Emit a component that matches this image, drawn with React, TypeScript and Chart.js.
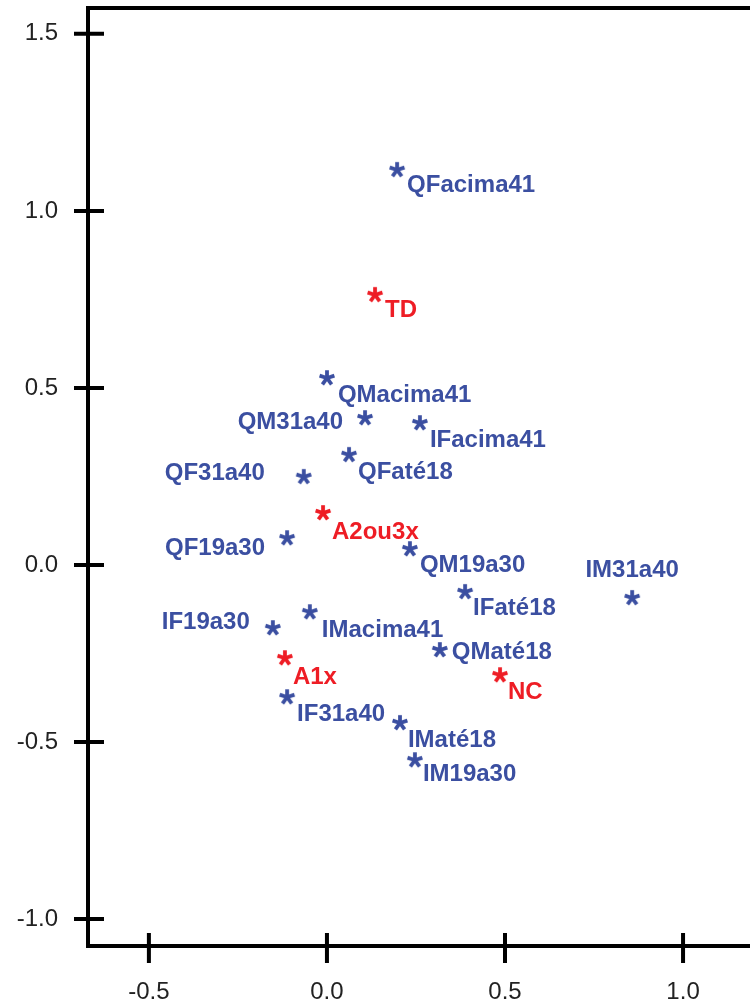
import React, { useEffect, useRef } from "react";
import { Chart, registerables } from "chart.js";

Chart.register(...registerables);

// ---- data ----
const blueLabels = [
  "QFacima41", "QMacima41", "QM31a40", "IFacima41", "QFaté18", "QF31a40",
  "QF19a30", "QM19a30", "IM31a40", "IFaté18", "IMacima41", "IF19a30",
  "QMaté18", "IF31a40", "IMaté18", "IM19a30",
];
const blueX = [0.197, 0.0, 0.107, 0.261, 0.062, -0.065, -0.112, 0.233, 0.857, 0.388, -0.048, -0.152, 0.317, -0.112, 0.205, 0.247];
const blueY = [1.116, 0.528, 0.415, 0.401, 0.311, 0.249, 0.076, 0.045, -0.093, -0.076, -0.133, -0.178, -0.24, -0.373, -0.446, -0.551];

const redLabels = ["TD", "A2ou3x", "A1x", "NC"];
const redX = [0.135, -0.011, -0.118, 0.486];
const redY = [0.763, 0.147, -0.263, -0.311];

const xTickValues = [-0.5, 0.0, 0.5, 1.0];
const yTickValues = [-1.0, -0.5, 0.0, 0.5, 1.0, 1.5];

// ---- label placement (pixel offsets relative to the marker) ----
type Place = { dx: number; dy: number; align: CanvasTextAlign };
const defaultPlace: Place = { dx: 10, dy: 15, align: "left" };
const labelPlacement: Record<string, Place> = {
  QFacima41: { dx: 10, dy: 14, align: "left" },
  TD: { dx: 10, dy: 14, align: "left" },
  QMacima41: { dx: 11, dy: 15, align: "left" },
  QFaté18: { dx: 9, dy: 16, align: "left" },
  A2ou3x: { dx: 9, dy: 17, align: "left" },
  QM19a30: { dx: 10, dy: 14, align: "left" },
  IFaté18: { dx: 8, dy: 14, align: "left" },
  IMacima41: { dx: 12, dy: 16, align: "left" },
  QMaté18: { dx: 12, dy: 0, align: "left" },
  A1x: { dx: 8, dy: 17, align: "left" },
  NC: { dx: 8, dy: 15, align: "left" },
  IMaté18: { dx: 8, dy: 15, align: "left" },
  IM19a30: { dx: 8, dy: 12, align: "left" },
  QM31a40: { dx: -22, dy: 2, align: "right" },
  QF31a40: { dx: -39, dy: -5, align: "right" },
  QF19a30: { dx: -22, dy: 8, align: "right" },
  IF19a30: { dx: -23, dy: -8, align: "right" },
  IM31a40: { dx: 0, dy: -30, align: "center" },
};

const BLUE = "#3b4fa1";
const RED = "#ee1d25";
const FONT_FAMILY = "'Liberation Sans', Arial, Helvetica, sans-serif";

function makeAsterisk(color: string): HTMLCanvasElement {
  const c = document.createElement("canvas");
  c.width = 20;
  c.height = 20;
  const g = c.getContext("2d")!;
  g.strokeStyle = color;
  g.lineWidth = 3.8;
  g.lineCap = "butt";
  const cx = 10, cy = 10, r = 7.8;
  for (let i = 0; i < 5; i++) {
    const a = -Math.PI / 2 + (i * 2 * Math.PI) / 5;
    g.beginPath();
    g.moveTo(cx, cy);
    g.lineTo(cx + r * Math.cos(a), cy + r * Math.sin(a));
    g.stroke();
  }
  return c;
}

const framePlugin = {
  id: "frameAxes",
  afterDraw(chart: any) {
    const { ctx, chartArea: ca, scales } = chart;
    ctx.save();
    ctx.strokeStyle = "#000";
    ctx.lineWidth = 4;
    ctx.lineCap = "butt";
    ctx.beginPath();
    // top border
    ctx.moveTo(ca.left - 2, ca.top);
    ctx.lineTo(ca.right + 20, ca.top);
    // left axis
    ctx.moveTo(ca.left, ca.top - 2);
    ctx.lineTo(ca.left, ca.bottom + 2);
    // bottom axis
    ctx.moveTo(ca.left - 2, ca.bottom);
    ctx.lineTo(ca.right + 20, ca.bottom);
    ctx.stroke();
    // ticks crossing the axes
    ctx.beginPath();
    for (const t of scales.y.ticks) {
      const py = scales.y.getPixelForValue(t.value);
      ctx.moveTo(ca.left - 14, py);
      ctx.lineTo(ca.left + 16, py);
    }
    for (const t of scales.x.ticks) {
      const px = scales.x.getPixelForValue(t.value);
      ctx.moveTo(px, ca.bottom - 13);
      ctx.lineTo(px, ca.bottom + 17);
    }
    ctx.stroke();
    ctx.restore();
  },
};

const labelPlugin = {
  id: "pointLabels",
  afterDatasetsDraw(chart: any) {
    const ctx = chart.ctx;
    ctx.save();
    ctx.font = `bold 24px ${FONT_FAMILY}`;
    ctx.textBaseline = "alphabetic";
    chart.data.datasets.forEach((ds: any, di: number) => {
      const meta = chart.getDatasetMeta(di);
      ctx.fillStyle = ds.labelColor;
      meta.data.forEach((el: any, i: number) => {
        const name = ds.names[i];
        const p = labelPlacement[name] || defaultPlace;
        ctx.textAlign = p.align;
        ctx.fillText(name, el.x + p.dx, el.y + p.dy + 8.6);
      });
    });
    ctx.restore();
  },
};

export default function App() {
  const ref = useRef<HTMLCanvasElement | null>(null);

  useEffect(() => {
    if (!ref.current) return;
    const blueStar = makeAsterisk(BLUE);
    const redStar = makeAsterisk(RED);
    const tickFont = { family: FONT_FAMILY, size: 24 };

    const chart = new Chart(ref.current, {
      type: "scatter",
      data: {
        datasets: [
          {
            label: "profils",
            data: blueX.map((x, i) => ({ x, y: blueY[i] })),
            pointStyle: blueStar as any,
            pointRadius: 8,
            names: blueLabels,
            labelColor: BLUE,
          } as any,
          {
            label: "groupes",
            data: redX.map((x, i) => ({ x, y: redY[i] })),
            pointStyle: redStar as any,
            pointRadius: 8,
            names: redLabels,
            labelColor: RED,
          } as any,
        ],
      },
      options: {
        animation: false,
        responsive: false,
        devicePixelRatio: 1,
        events: [],
        layout: { autoPadding: false, padding: { top: 8, right: 0, left: 0, bottom: 0 } },
        plugins: {
          legend: { display: false },
          tooltip: { enabled: false },
        },
        scales: {
          x: {
            type: "linear",
            min: -0.671,
            max: 1.188,
            grid: { display: false, drawTicks: false },
            border: { display: false },
            afterBuildTicks: (scale: any) => {
              scale.ticks = xTickValues.map((v) => ({ value: v }));
            },
            afterFit: (scale: any) => {
              scale.height = 58;
              scale.paddingLeft = 0;
              scale.paddingRight = 0;
              scale.paddingTop = 0;
              scale.paddingBottom = 0;
            },
            ticks: {
              font: tickFont,
              color: "#222",
              padding: 32,
              maxRotation: 0,
              autoSkip: false,
              callback: (v: any) => Number(v).toFixed(1),
            },
          },
          y: {
            type: "linear",
            min: -1.076,
            max: 1.573,
            grid: { display: false, drawTicks: false },
            border: { display: false },
            afterBuildTicks: (scale: any) => {
              scale.ticks = yTickValues.map((v) => ({ value: v }));
            },
            afterFit: (scale: any) => {
              scale.width = 88;
              scale.paddingLeft = 0;
              scale.paddingRight = 0;
              scale.paddingTop = 0;
              scale.paddingBottom = 0;
            },
            ticks: {
              font: tickFont,
              color: "#222",
              padding: 30,
              autoSkip: false,
              callback: (v: any) => Number(v).toFixed(1),
            },
          },
        },
      } as any,
      plugins: [framePlugin, labelPlugin],
    });
    return () => chart.destroy();
  }, []);

  return (
    <div style={{ position: "absolute", left: 0, top: 0, width: 750, height: 1004, overflow: "hidden", background: "#fff" }}>
      <canvas ref={ref} width={750} height={1004} style={{ width: 750, height: 1004, display: "block" }} />
    </div>
  );
}
